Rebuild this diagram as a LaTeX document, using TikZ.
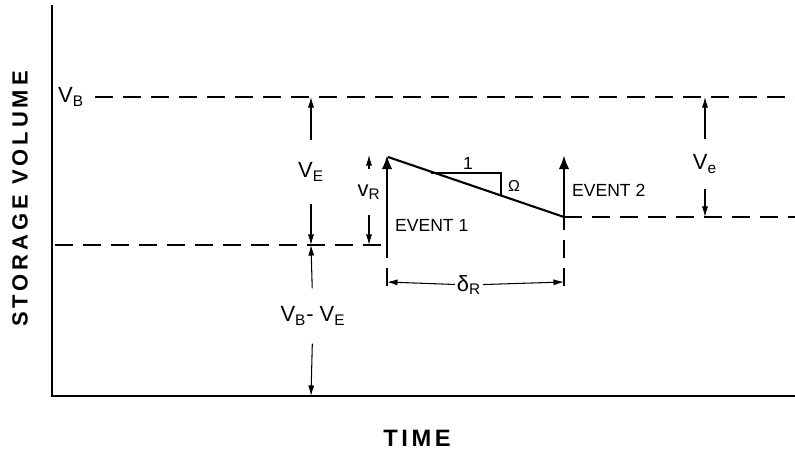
\documentclass[tikz,border=0pt]{standalone}
\usepackage{fontspec}
\setmainfont{Liberation Sans}
\usetikzlibrary{arrows.meta,positioning}

\tikzset{
  dim/.style={-{Latex[length=6pt,width=3.5pt]},line width=0.6pt},
  evarrow/.style={-{Latex[length=8pt,width=6pt]},line width=1.7pt},
  guide/.style={dash pattern=on 0.36cm off 0.2cm,line width=0.8pt},
  lbl/.style={font=\fontsize{12.5}{14}\selectfont,inner xsep=1pt},
  evlbl/.style={font=\fontsize{10}{12}\selectfont,inner sep=1pt,anchor=west},
  axlbl/.style={font=\bfseries\fontsize{12.5}{15}\selectfont\addfontfeature{LetterSpace=18}}
}

\begin{document}
\begin{tikzpicture}[x=0.02cm,y=-0.02cm]
	\useasboundingbox (0,0) rectangle (795,455);
	% axes
	\coordinate (ytop) at (52,5);
	\coordinate (O) at (52,396);
	\coordinate (xend) at (795,396);
	\draw[line width=1.6pt] (ytop) -- (O) -- (xend);
	\node[axlbl,rotate=90] (ylab) at (20,199) {STORAGE VOLUME};
	\node[axlbl,font=\bfseries\fontsize{13.5}{16}\selectfont\addfontfeature{LetterSpace=15}] (xlab) at (417,438) {TIME};

	% levels and events
	\coordinate (e1) at (387,245);
	\coordinate (e1t) at (387,155);
	\coordinate (e2) at (564,217);
	\coordinate (e2t) at (564,155);
	\coordinate (lowl) at (55,245);
	\node[lbl,inner sep=0pt] (VB) at (71,97) {V\textsubscript{B}};
	\draw[guide] ([xshift=6pt]VB.east) -- (795,97);
	\draw[guide] (lowl) -- (e1);
	\draw[guide] (e2) -- (795,217);
	\foreach \p in {e1,e2}
		\draw[guide,dash phase=0.1cm] (\p) -- (\p |- 0,292);
	\draw[line width=1.2pt] (388,157) -- (e2);
	\draw[evarrow] (e1) -- (e1t);
	\draw[evarrow] (e2) -- (e2t);
	\node[evlbl] (ev1) at (393,225) {EVENT 1};
	\node[evlbl] (ev2) at (570,190) {EVENT 2};

	% slope
	\draw[line width=0.8pt] (431,173) -- (501,173) -- (501,196);
	\node[evlbl,anchor=center] (one) at (468,163) {1};
	\node[font=\fontsize{9}{10}\selectfont] (om) at (514,186) {Ω};

	% dimensions
	\node[lbl,inner ysep=0.45cm] (VE) at (311,172) {V\textsubscript{E}};
	\draw[dim] (VE) -- (311,97);
	\draw[dim] (VE) -- (311,245);
	\node[lbl,inner ysep=0.36cm] (VBE) at (313,316) {V\textsubscript{B}- V\textsubscript{E}};
	\draw[dim] (VBE) -- (311,245);
	\draw[dim] (VBE) -- (311,396);
	\node[lbl,inner ysep=0.3cm] (vR) at (369,192) {v\textsubscript{R}};
	\draw[dim] (vR) -- (369,155);
	\draw[dim] (vR) -- (369,245);
	\node[lbl,inner ysep=0.3cm] (Ve) at (705,164) {V\textsubscript{e}};
	\draw[dim] (Ve) -- (705,97);
	\draw[dim] (Ve) -- (705,217);
	\node[lbl,inner xsep=1pt] (dR) at (469,285) {δ\textsubscript{R}};
	\draw[dim] (dR) -- (387,282);
	\draw[dim] (dR) -- (564,282);
\end{tikzpicture}
\end{document}
